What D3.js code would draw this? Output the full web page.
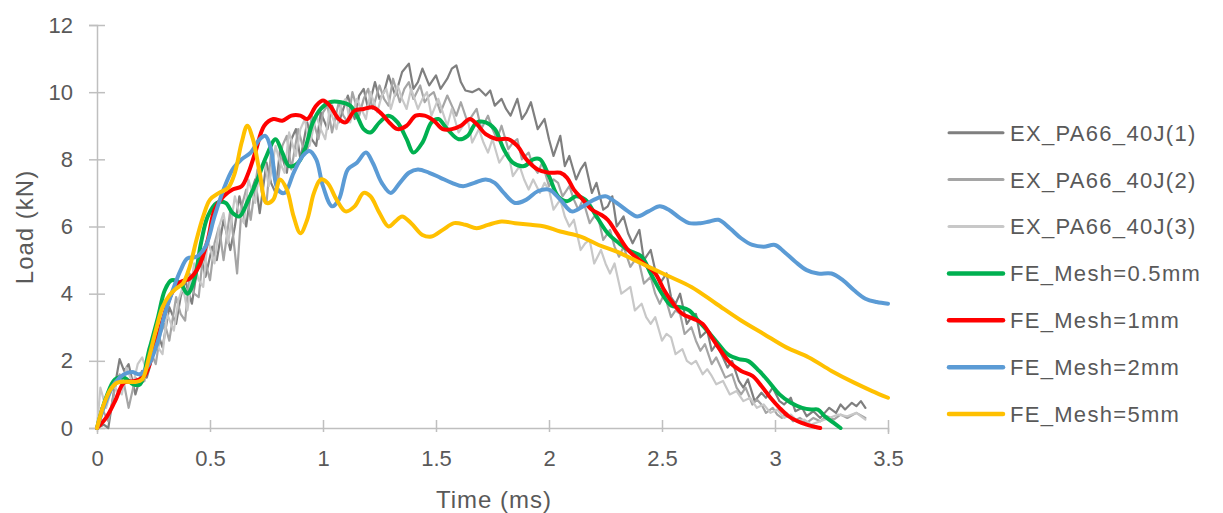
<!DOCTYPE html>
<html>
<head>
<meta charset="utf-8">
<script src="https://cdn.jsdelivr.net/npm/d3@7"></script>
<style>
  html, body { margin: 0; padding: 0; background: #ffffff; }
  svg { display: block; }
  text { font-family: "Liberation Sans", Arial, sans-serif; fill: #595959; }
</style>
</head>
<body>
<svg id="chart" width="1223" height="513"></svg>
<script>
// ---- tick labels / axes ----
const xTicks = [0, 0.5, 1, 1.5, 2, 2.5, 3, 3.5];
const yTicks = [0, 2, 4, 6, 8, 10, 12];
const xTitle = "Time (ms)";
const yTitle = "Load (kN)";

// ---- series names / colours ----
const seriesNames = ["EX_PA66_40J(1)", "EX_PA66_40J(2)", "EX_PA66_40J(3)",
  "FE_Mesh=0.5mm", "FE_Mesh=1mm", "FE_Mesh=2mm", "FE_Mesh=5mm"];
const seriesColors = ["#7f7f7f", "#a5a5a5", "#c8c8c8", "#00b050", "#ff0000", "#5b9bd5", "#ffc000"];

// ---- experimental curves [time ms, load kN] ----
const ex1 = [[0,0],[0.03,0.1],[0.05,0.0],[0.075,1.1],[0.1,2.05],[0.12,1.7],[0.14,1.9],[0.17,1.0],[0.2,1.7],[0.22,1.5],[0.25,2.2],[0.27,2.8],[0.29,2.4],[0.32,3.6],[0.35,3.1],[0.37,3.9],[0.39,4.4],[0.42,3.7],[0.44,4.6],[0.46,5.1],[0.48,4.5],[0.51,5.4],[0.53,5.0],[0.56,6.2],[0.59,5.3],[0.61,6.0],[0.63,6.9],[0.66,6.0],[0.68,7.0],[0.70,7.4],[0.72,6.4],[0.75,7.9],[0.77,7.3],[0.79,7.0],[0.81,8.3],[0.84,7.6],[0.86,8.6],[0.88,8.9],[0.90,8.0],[0.93,9.1],[0.95,8.6],[0.97,8.4],[0.99,9.4],[1.02,8.9],[1.04,9.6],[1.07,9.1],[1.09,9.5],[1.11,9.9],[1.14,9.2],[1.16,9.9],[1.18,10.1],[1.20,9.5],[1.23,10.3],[1.25,9.8],[1.27,10.0],[1.29,10.5],[1.32,9.9],[1.35,10.6],[1.38,10.85],[1.40,10.1],[1.42,10.3],[1.44,10.7],[1.47,10.2],[1.50,10.5],[1.52,10.1],[1.55,10.4],[1.57,10.7],[1.59,10.8],[1.61,10.3],[1.63,10.05],[1.66,10.0],[1.69,10.1],[1.72,9.9],[1.74,10.05],[1.76,9.6],[1.79,9.8],[1.81,9.5],[1.83,9.3],[1.86,9.8],[1.88,9.2],[1.90,9.4],[1.92,9.7],[1.95,8.9],[1.98,9.2],[2.0,8.6],[2.02,8.1],[2.05,8.7],[2.07,7.8],[2.09,8.1],[2.12,7.4],[2.14,7.7],[2.16,7.9],[2.19,7.0],[2.21,7.3],[2.24,6.5],[2.26,6.6],[2.28,6.9],[2.30,6.0],[2.33,6.3],[2.35,5.8],[2.37,5.5],[2.40,5.9],[2.42,5.0],[2.45,5.3],[2.47,4.7],[2.49,4.3],[2.52,4.6],[2.54,3.9],[2.56,3.7],[2.58,4.0],[2.61,3.1],[2.63,3.3],[2.65,3.4],[2.67,2.7],[2.70,2.9],[2.72,2.3],[2.74,2.5],[2.77,2.1],[2.79,1.8],[2.81,2.0],[2.84,1.4],[2.86,1.2],[2.88,1.45],[2.91,0.8],[2.94,1.05],[2.96,0.9],[2.99,1.2],[3.02,0.8],[3.04,0.7],[3.07,0.9],[3.09,0.5],[3.12,0.6],[3.14,0.35],[3.17,0.5],[3.20,0.3],[3.22,0.45],[3.24,0.6],[3.27,0.45],[3.29,0.7],[3.31,0.55],[3.34,0.75],[3.36,0.65],[3.38,0.8],[3.40,0.6]];

const ex2 = [[0,0],[0.02,0.6],[0.05,0.2],[0.08,1.2],[0.10,1.6],[0.12,1.3],[0.14,0.6],[0.17,1.5],[0.19,1.3],[0.21,1.4],[0.23,2.4],[0.26,1.9],[0.28,2.8],[0.30,3.1],[0.32,2.6],[0.35,3.9],[0.37,3.4],[0.39,3.2],[0.41,4.6],[0.43,4.0],[0.45,3.9],[0.47,5.2],[0.50,4.4],[0.52,5.5],[0.54,6.0],[0.56,5.0],[0.59,6.5],[0.62,4.6],[0.64,6.6],[0.66,7.1],[0.68,6.2],[0.71,7.7],[0.73,7.0],[0.75,6.7],[0.77,8.2],[0.80,7.3],[0.82,8.4],[0.84,8.7],[0.86,7.7],[0.89,8.9],[0.91,8.4],[0.93,8.2],[0.95,9.3],[0.98,8.6],[1.0,9.4],[1.02,9.6],[1.04,8.8],[1.07,9.7],[1.09,9.3],[1.11,9.1],[1.13,10.0],[1.16,9.3],[1.18,9.8],[1.20,10.1],[1.22,9.5],[1.25,10.2],[1.27,9.8],[1.29,9.6],[1.31,10.4],[1.34,9.7],[1.36,10.1],[1.38,10.3],[1.40,9.8],[1.43,10.2],[1.45,9.7],[1.47,9.9],[1.49,10.0],[1.52,9.4],[1.55,9.9],[1.57,9.6],[1.59,9.3],[1.61,9.7],[1.64,9.1],[1.66,9.3],[1.68,9.5],[1.70,8.9],[1.73,9.3],[1.75,8.9],[1.77,8.6],[1.79,9.0],[1.82,8.3],[1.84,8.5],[1.86,8.6],[1.88,8.0],[1.91,8.2],[1.93,7.8],[1.95,7.6],[1.97,7.9],[2.00,7.2],[2.02,7.4],[2.04,7.3],[2.06,6.9],[2.09,7.2],[2.11,6.8],[2.13,6.5],[2.15,6.8],[2.18,6.1],[2.20,6.3],[2.22,6.2],[2.24,5.6],[2.27,5.9],[2.29,5.4],[2.31,5.1],[2.33,5.4],[2.36,4.8],[2.38,5.0],[2.40,4.9],[2.42,4.3],[2.45,4.5],[2.47,4.0],[2.49,3.7],[2.51,4.0],[2.54,3.3],[2.56,3.5],[2.58,3.4],[2.60,2.8],[2.63,3.0],[2.65,2.6],[2.67,2.3],[2.69,2.5],[2.72,1.9],[2.74,2.1],[2.76,1.8],[2.78,1.5],[2.81,1.6],[2.83,1.2],[2.85,1.0],[2.87,1.2],[2.90,0.7],[2.92,0.85],[2.94,0.7],[2.96,0.45],[2.99,0.6],[3.01,0.4],[3.03,0.3],[3.05,0.45],[3.08,0.2],[3.11,0.3],[3.14,0.15],[3.17,0.3],[3.20,0.2],[3.23,0.35],[3.26,0.25],[3.29,0.4],[3.32,0.3],[3.36,0.45],[3.40,0.3]];

const ex3 = [[0,0],[0.015,1.2],[0.04,0.6],[0.07,1.3],[0.09,1.1],[0.11,1.0],[0.13,1.8],[0.16,1.3],[0.18,1.9],[0.20,2.1],[0.22,1.7],[0.25,2.7],[0.27,2.4],[0.29,2.2],[0.31,3.4],[0.34,2.9],[0.36,3.8],[0.38,4.2],[0.40,3.5],[0.43,4.9],[0.45,4.4],[0.47,4.2],[0.49,5.6],[0.52,4.9],[0.54,6.0],[0.56,6.4],[0.58,5.5],[0.61,6.9],[0.63,6.4],[0.65,6.1],[0.67,7.4],[0.70,6.7],[0.72,7.7],[0.74,8.0],[0.76,7.2],[0.79,8.4],[0.81,7.9],[0.83,7.6],[0.85,8.8],[0.88,8.1],[0.90,8.9],[0.92,9.2],[0.94,8.4],[0.97,9.3],[0.99,8.9],[1.01,8.6],[1.03,9.5],[1.06,8.9],[1.08,9.6],[1.10,9.8],[1.12,9.1],[1.15,9.8],[1.17,9.5],[1.19,9.2],[1.21,10.0],[1.24,9.4],[1.26,9.9],[1.28,10.1],[1.30,9.5],[1.33,10.2],[1.35,9.8],[1.37,9.5],[1.39,10.1],[1.42,9.5],[1.44,9.8],[1.46,10.0],[1.48,9.3],[1.51,9.8],[1.53,9.4],[1.55,9.0],[1.57,9.5],[1.60,8.8],[1.62,9.0],[1.64,9.2],[1.66,8.5],[1.69,8.9],[1.71,8.5],[1.73,8.2],[1.75,8.6],[1.78,7.9],[1.80,8.1],[1.82,8.2],[1.84,7.5],[1.87,7.8],[1.89,7.4],[1.91,7.1],[1.93,7.4],[1.96,7.0],[1.98,7.3],[2.00,7.1],[2.02,6.5],[2.05,6.8],[2.07,6.3],[2.09,6.0],[2.11,6.2],[2.14,5.3],[2.16,5.5],[2.18,5.6],[2.20,4.9],[2.23,5.3],[2.25,4.9],[2.27,4.6],[2.29,4.9],[2.32,4.0],[2.34,4.1],[2.36,4.2],[2.38,3.5],[2.41,3.7],[2.43,3.3],[2.45,3.1],[2.47,3.3],[2.50,2.6],[2.52,2.8],[2.54,2.7],[2.56,2.2],[2.59,2.35],[2.61,2.0],[2.63,1.9],[2.65,2.0],[2.68,1.6],[2.70,1.75],[2.72,1.55],[2.74,1.3],[2.77,1.4],[2.80,1.0],[2.83,1.1],[2.86,0.8],[2.89,0.9],[2.92,0.6],[2.95,0.7],[2.98,0.45],[3.01,0.55],[3.04,0.3],[3.07,0.4],[3.10,0.2],[3.13,0.25],[3.16,0.1],[3.20,0.2],[3.24,0.3],[3.28,0.4],[3.32,0.35],[3.36,0.45],[3.40,0.25]];

// ---- FE curves [time ms, load kN] ----
const fe05 = [[0,0],[0.04,0.9],[0.08,1.45],[0.12,1.5],[0.16,1.3],[0.19,1.3],[0.23,2.3],[0.27,3.3],[0.30,4.1],[0.33,4.4],[0.37,4.3],[0.40,4.0],[0.43,4.4],[0.46,5.5],[0.49,6.3],[0.53,6.7],[0.57,6.7],[0.60,6.4],[0.63,6.3],[0.67,6.8],[0.71,7.4],[0.75,8.1],[0.79,8.6],[0.82,8.2],[0.85,7.8],[0.89,7.9],[0.92,8.3],[0.955,9.1],[0.99,9.5],[1.03,9.7],[1.08,9.7],[1.12,9.6],[1.15,9.3],[1.18,8.9],[1.21,8.8],[1.25,9.1],[1.29,9.3],[1.33,9.1],[1.37,8.6],[1.40,8.2],[1.44,8.5],[1.48,9.1],[1.51,9.2],[1.55,8.9],[1.60,8.6],[1.64,8.7],[1.68,9.1],[1.72,9.1],[1.76,8.9],[1.80,8.3],[1.84,7.9],[1.89,7.8],[1.93,8.0],[1.96,8.0],[2.0,7.5],[2.04,6.9],[2.08,6.75],[2.12,6.9],[2.16,6.8],[2.21,6.3],[2.26,5.8],[2.31,5.5],[2.35,5.3],[2.41,5.1],[2.45,4.6],[2.50,4.0],[2.54,3.65],[2.58,3.6],[2.62,3.5],[2.66,3.2],[2.70,2.9],[2.75,2.5],[2.79,2.2],[2.84,2.05],[2.88,2.0],[2.93,1.7],[2.97,1.4],[3.02,1.0],[3.07,0.75],[3.12,0.6],[3.16,0.55],[3.19,0.55],[3.22,0.35],[3.26,0.15],[3.29,0.0]];

const fe1 = [[0,0],[0.04,0.3],[0.08,0.8],[0.12,1.35],[0.17,1.4],[0.21,1.55],[0.25,2.3],[0.29,3.2],[0.33,4.0],[0.37,4.35],[0.41,4.45],[0.45,4.8],[0.49,5.6],[0.52,6.5],[0.56,6.9],[0.60,7.1],[0.64,7.2],[0.67,7.6],[0.70,8.2],[0.74,9.0],[0.78,9.2],[0.82,9.15],[0.86,9.3],[0.90,9.3],[0.93,9.2],[0.97,9.6],[1.0,9.75],[1.03,9.6],[1.07,9.2],[1.10,9.1],[1.14,9.45],[1.18,9.5],[1.22,9.55],[1.26,9.35],[1.30,9.05],[1.33,8.9],[1.37,9.0],[1.41,9.3],[1.45,9.3],[1.49,9.15],[1.53,8.9],[1.57,8.9],[1.61,9.0],[1.65,9.2],[1.68,9.05],[1.72,8.75],[1.77,8.6],[1.82,8.6],[1.86,8.4],[1.90,8.0],[1.95,7.7],[2.0,7.6],[2.05,7.6],[2.08,7.45],[2.11,7.1],[2.15,6.8],[2.19,6.5],[2.23,6.35],[2.26,6.2],[2.30,5.8],[2.35,5.3],[2.41,4.95],[2.47,4.6],[2.51,4.1],[2.55,3.7],[2.59,3.4],[2.64,3.25],[2.68,3.1],[2.72,2.7],[2.76,2.3],[2.80,1.95],[2.85,1.7],[2.90,1.55],[2.94,1.25],[2.98,0.9],[3.02,0.6],[3.06,0.35],[3.10,0.2],[3.14,0.1],[3.18,0.03],[3.2,0.0]];

const fe2 = [[0,0],[0.04,0.8],[0.08,1.35],[0.12,1.6],[0.155,1.67],[0.19,1.6],[0.23,1.9],[0.27,2.6],[0.30,3.4],[0.33,4.0],[0.37,4.7],[0.40,5.05],[0.44,5.1],[0.48,5.4],[0.52,6.3],[0.56,7.1],[0.60,7.7],[0.64,8.0],[0.68,8.2],[0.72,8.6],[0.745,8.7],[0.77,8.3],[0.80,7.1],[0.83,7.0],[0.87,7.6],[0.91,8.1],[0.94,8.25],[0.97,8.0],[1.0,7.2],[1.04,6.6],[1.07,6.8],[1.11,7.7],[1.15,7.9],[1.19,8.2],[1.22,7.9],[1.26,7.3],[1.30,7.0],[1.34,7.3],[1.38,7.6],[1.42,7.7],[1.47,7.6],[1.52,7.45],[1.57,7.3],[1.62,7.2],[1.67,7.3],[1.72,7.4],[1.76,7.3],[1.80,7.0],[1.85,6.7],[1.90,6.8],[1.95,7.05],[2.0,7.1],[2.05,6.8],[2.10,6.45],[2.15,6.6],[2.20,6.8],[2.25,6.9],[2.30,6.7],[2.35,6.45],[2.39,6.3],[2.44,6.45],[2.49,6.6],[2.53,6.5],[2.58,6.25],[2.62,6.1],[2.67,6.1],[2.71,6.15],[2.75,6.2],[2.80,5.95],[2.85,5.65],[2.90,5.45],[2.95,5.4],[3.0,5.45],[3.04,5.25],[3.09,4.95],[3.14,4.7],[3.19,4.6],[3.25,4.6],[3.30,4.4],[3.35,4.1],[3.40,3.85],[3.45,3.75],[3.50,3.7]];

const fe5 = [[0,0],[0.03,0.7],[0.06,1.15],[0.09,1.35],[0.13,1.38],[0.17,1.37],[0.20,1.45],[0.23,2.1],[0.26,2.9],[0.29,3.6],[0.32,3.95],[0.35,4.15],[0.38,4.3],[0.41,4.8],[0.44,5.6],[0.47,6.3],[0.50,6.8],[0.54,7.0],[0.58,7.15],[0.61,7.6],[0.64,8.5],[0.665,9.0],[0.69,8.6],[0.72,7.6],[0.75,6.7],[0.78,6.8],[0.81,7.4],[0.84,7.1],[0.87,6.3],[0.90,5.8],[0.93,6.2],[0.96,7.0],[0.99,7.4],[1.02,7.3],[1.06,6.8],[1.10,6.45],[1.14,6.6],[1.18,7.0],[1.21,6.9],[1.25,6.4],[1.29,6.0],[1.32,6.15],[1.35,6.3],[1.39,6.1],[1.44,5.75],[1.48,5.7],[1.53,5.9],[1.58,6.1],[1.63,6.05],[1.68,5.95],[1.73,6.05],[1.79,6.15],[1.85,6.1],[1.92,6.05],[1.98,6.0],[2.05,5.85],[2.14,5.7],[2.22,5.45],[2.30,5.25],[2.41,4.9],[2.52,4.55],[2.63,4.2],[2.74,3.7],[2.85,3.2],[2.95,2.8],[3.05,2.4],[3.15,2.1],[3.25,1.7],[3.35,1.35],[3.43,1.1],[3.5,0.9]];

const seriesData = [ex1, ex2, ex3, fe05, fe1, fe2, fe5];

// ---- drawing ----
const svg = d3.select("#chart");
const x = d3.scaleLinear().domain([0, 3.5]).range([97, 888]);
const y = d3.scaleLinear().domain([0, 12]).range([428, 25]);
const axisColor = "#bfbfbf";

// y axis
const yAxis = svg.append("g").attr("transform", `translate(${x(0)},0)`)
  .call(d3.axisLeft(y).tickValues(yTicks).tickSize(8).tickPadding(16).tickFormat(d3.format("d")));
yAxis.select(".domain").attr("stroke", axisColor).attr("stroke-width", 1.5);
yAxis.selectAll(".tick line").attr("stroke", axisColor).attr("stroke-width", 1.5).attr("x2", 8).attr("x1", -8);
yAxis.selectAll(".tick text").attr("font-size", 22).attr("fill", "#595959")
  .attr("font-family", "Liberation Sans, Arial, sans-serif").attr("x", -24);

// x axis
const xAxis = svg.append("g").attr("transform", `translate(0,${y(0)})`)
  .call(d3.axisBottom(x).tickValues(xTicks).tickSize(6).tickPadding(14).tickFormat(d => String(d)));
xAxis.select(".domain").attr("stroke", axisColor).attr("stroke-width", 1.5);
xAxis.selectAll(".tick line").attr("stroke", axisColor).attr("stroke-width", 1.5).attr("y1", -8).attr("y2", 4);
xAxis.selectAll(".tick text").attr("font-size", 22).attr("fill", "#595959")
  .attr("font-family", "Liberation Sans, Arial, sans-serif").attr("y", 22);

// titles
svg.append("text").attr("x", 494).attr("y", 508).attr("text-anchor", "middle")
  .attr("font-size", 24).attr("letter-spacing", 1).text(xTitle);
svg.append("text").attr("transform", "translate(33,227) rotate(-90)").attr("text-anchor", "middle")
  .attr("font-size", 24).attr("letter-spacing", 1).text(yTitle);

// lines
const lineJag = d3.line().x(d => x(d[0])).y(d => y(d[1])).curve(d3.curveLinear);
const lineSmooth = d3.line().x(d => x(d[0])).y(d => y(d[1])).curve(d3.curveCatmullRom.alpha(0.5));
const widths = [2.2, 2.2, 2.2, 4, 4, 4, 4];

seriesData.forEach((data, i) => {
  svg.append("path").datum(data)
    .attr("fill", "none")
    .attr("stroke", seriesColors[i])
    .attr("stroke-width", widths[i])
    .attr("stroke-linejoin", "round")
    .attr("stroke-linecap", "round")
    .attr("d", i < 3 ? lineJag : lineSmooth);
});

// legend
const legend = svg.append("g");
seriesNames.forEach((name, i) => {
  const cy = 132.7 + i * 46.9;
  legend.append("line").attr("x1", 949).attr("x2", 1003).attr("y1", cy).attr("y2", cy)
    .attr("stroke", seriesColors[i]).attr("stroke-width", i < 3 ? 3 : 4.5).attr("stroke-linecap", "round");
  legend.append("text").attr("x", 1010).attr("y", cy).attr("dy", "0.36em")
    .attr("font-size", 22).attr("letter-spacing", 1.3).text(name);
});
</script>
</body>
</html>
